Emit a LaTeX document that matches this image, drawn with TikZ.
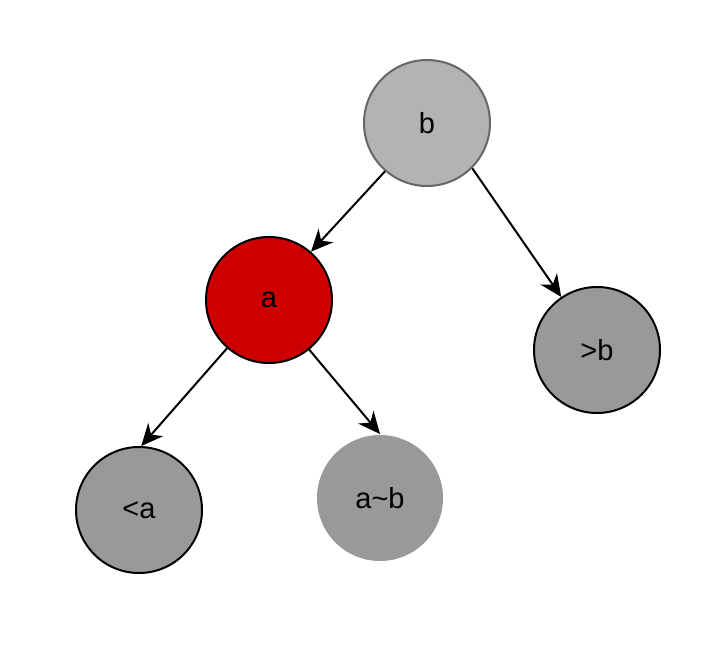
\documentclass[tikz,border=0pt]{standalone}
\usepackage{fontspec}
\setmainfont{Liberation Sans}
\usetikzlibrary{arrows.meta}
\definecolor{lgray}{HTML}{B3B3B3}
\definecolor{dgray}{HTML}{666666}
\definecolor{mgray}{HTML}{999999}
\definecolor{myred}{HTML}{CC0000}
\begin{document}
\begin{tikzpicture}[x=1pt,y=-1pt,
  vtx/.style={circle, minimum size=126pt, inner sep=0pt, line width=2pt, font=\fontsize{29}{33}\selectfont},
  edge/.style={line width=2pt, -{Stealth[length=22pt,width=20pt,inset=7pt]}}]
\useasboundingbox (0,0) rectangle (706,664);
\node[vtx, fill=lgray, draw=dgray] (b) at (427,123) {b};
\node[vtx, fill=myred, draw=black] (a) at (269,300) {a};
\node[vtx, fill=mgray, draw=black] (gb) at (597,350) {>b};
\node[vtx, fill=mgray, draw=black] (la) at (139,510) {<a};
\node[vtx, fill=mgray] (ab) at (380,498) {a\char`~b};
\draw[edge] (b.229) -- (a.49);
\draw[edge] (b.-45) -- (gb.124);
\draw[edge] (a.229) -- (la.88);
\draw[edge] (a.-51) -- (ab.north);
\end{tikzpicture}
\end{document}
